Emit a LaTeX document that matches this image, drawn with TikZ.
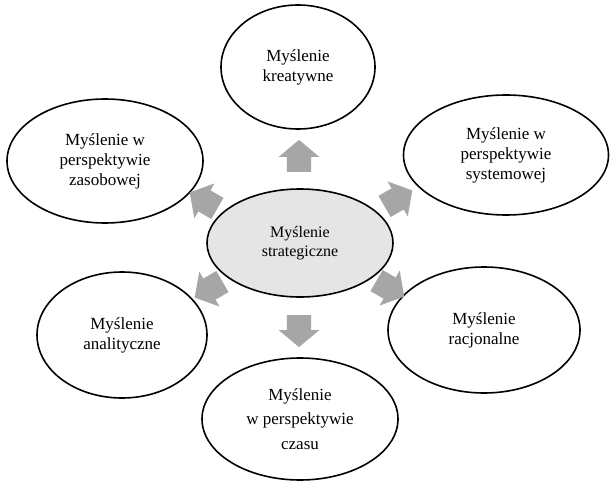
\documentclass[tikz,border=0pt]{standalone}
\usepackage{fontspec}
\setmainfont{Liberation Serif}
\usetikzlibrary{shapes.geometric,shapes.arrows}

\begin{document}
\begin{tikzpicture}[
                x=1pt, y=-1pt,
                thought/.style={draw, ellipse, line width=1.6pt, inner sep=0pt, align=center, font=\fontsize{17}{20}\selectfont},
                pointer/.style={single arrow, fill=black!35, draw=none, minimum height=32pt, inner xsep=0pt, inner ysep=12pt, single arrow head extend=8pt, single arrow tip angle=100}
                ]
                \useasboundingbox (0,0) rectangle (610,481);

                \node [thought, fill=black!10, minimum width=186pt, minimum height=108pt, font=\fontsize{16}{19}\selectfont] (centre) at (300,243) {Myślenie\\strategiczne};

                \node [thought, minimum width=154pt, minimum height=124pt] (kreatywne) at (298,67) {Myślenie\\kreatywne};
                \node [thought, minimum width=205pt, minimum height=120pt] (systemowe) at (506,155) {Myślenie w\\perspektywie\\systemowej};
                \node [thought, minimum width=192pt, minimum height=126pt] (racjonalne) at (484,330) {Myślenie\\racjonalne};
                \node [thought, minimum width=196pt, minimum height=122pt, font=\fontsize{17}{24.5}\selectfont] (czas) at (300,419) {Myślenie\\w perspektywie\\czasu};
                \node [thought, minimum width=170pt, minimum height=126pt] (analityczne) at (122,335) {Myślenie\\analityczne};
                \node [thought, minimum width=196pt, minimum height=124pt] (zasoby) at (105,161) {Myślenie w\\perspektywie\\zasobowej};

                % strzalki od srodka
                \node [pointer, rotate=90] (up) at (299,161) {};
                \node [pointer, rotate=-90] (down) at (299,326) {};
                \node [pointer, rotate=30] (upright) at (394,201) {};
                \node [pointer, rotate=-30] (downright) at (386,286) {};
                \node [pointer, rotate=150] (upleft) at (208,203) {};
                \node [pointer, rotate=210] (downleft) at (213,287) {};
            \end{tikzpicture}
\end{document}
